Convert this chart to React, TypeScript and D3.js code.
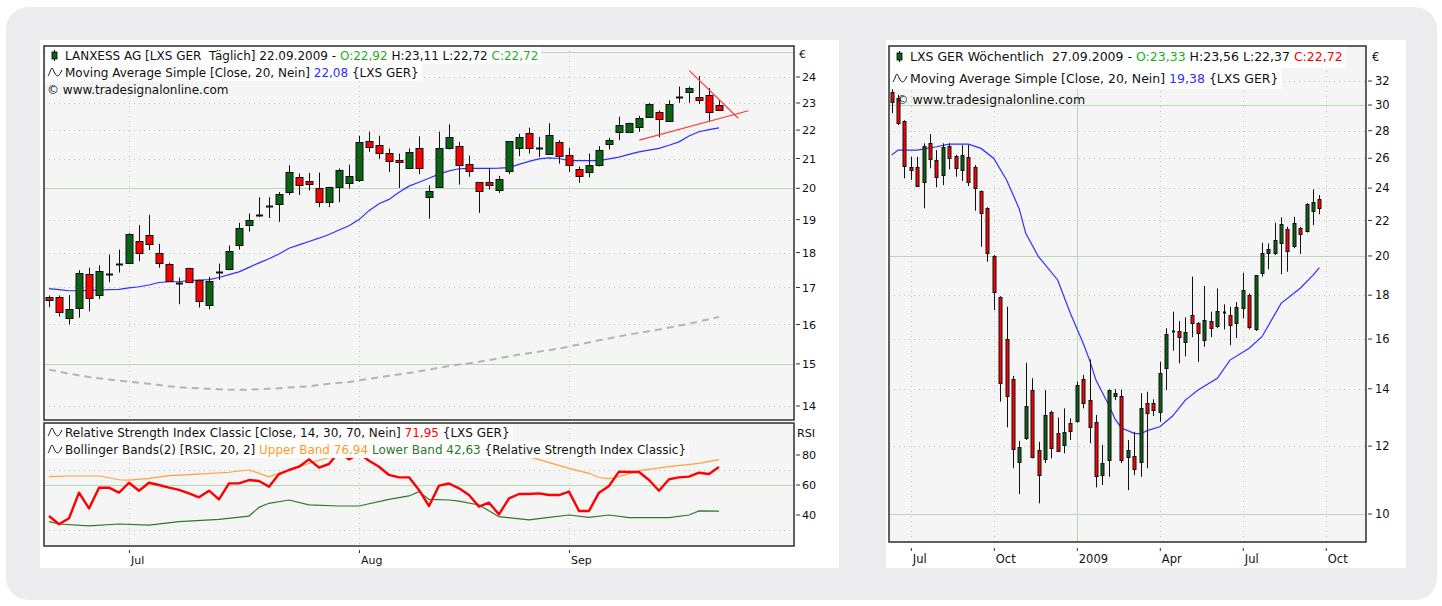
import { useLayoutEffect, useRef, useState } from 'react'
import * as d3 from 'd3'

const FONT = '"DejaVu Sans", Verdana, sans-serif'
const GREEN = '#0b6414'
const RED = '#ff0000'
const BLUE = '#2f2fff'

// LXS GER daily, 19.06.2009 - 22.09.2009 (one entry per trading day)
const dailyOpen = [16.74, 16.75, 16.16, 16.45, 17.39, 16.8, 17.39, 17.67, 17.7, 18.35, 18.52, 17.99, 17.68, 17.13, 17.54, 17.21, 16.53, 17.45, 17.51, 18.22, 18.83, 19.13, 19.44, 19.49, 19.87, 20.36, 20.23, 20.02, 19.55, 20.03, 20.16, 20.26, 21.61, 21.47, 21.2, 20.96, 20.68, 21.37, 19.73, 20.04, 21.37, 21.43, 20.82, 20.21, 20.22, 19.93, 20.59, 21.37, 21.91, 21.38, 21.17, 21.56, 21.13, 20.63, 20.54, 20.77, 21.49, 21.92, 21.92, 22.1, 22.47, 22.68, 22.33, 23.24, 23.41, 23.24, 23.31, 22.92]
const dailyHigh = [16.78, 16.78, 16.79, 17.49, 17.56, 17.63, 17.94, 18.09, 18.58, 18.83, 19.15, 18.26, 17.7, 17.28, 17.56, 17.22, 17.3, 17.68, 18.21, 18.9, 19.19, 19.71, 19.71, 19.88, 20.77, 20.49, 20.51, 20.52, 20.05, 20.66, 20.79, 21.8, 21.94, 21.8, 21.35, 21.17, 21.35, 21.78, 20.1, 21.94, 22.21, 21.58, 21.1, 20.21, 20.66, 20.41, 21.61, 21.87, 22.09, 21.76, 22.25, 21.64, 21.37, 20.73, 21.17, 21.43, 21.73, 22.49, 22.27, 22.52, 23.0, 22.72, 23.1, 23.63, 23.63, 24.04, 23.57, 23.11]
const dailyLow = [16.46, 16.21, 16.0, 16.18, 16.35, 16.68, 17.15, 17.42, 17.68, 17.75, 18.07, 17.56, 17.15, 16.54, 17.12, 16.45, 16.4, 17.21, 17.49, 18.09, 18.63, 19.08, 19.05, 18.93, 19.78, 19.78, 19.93, 19.39, 19.39, 19.55, 19.99, 20.21, 21.23, 20.99, 20.54, 20.01, 20.66, 20.47, 19.03, 20.02, 21.31, 20.12, 20.38, 19.21, 19.96, 19.85, 20.47, 21.08, 21.17, 21.05, 21.13, 20.82, 20.54, 20.18, 20.36, 20.73, 21.31, 21.64, 21.9, 21.94, 22.45, 21.74, 22.31, 23.01, 23.01, 22.96, 22.33, 22.72]
const dailyClose = [16.65, 16.34, 16.4, 17.42, 16.72, 17.46, 17.39, 17.67, 18.55, 17.99, 18.26, 17.7, 17.18, 17.13, 17.16, 16.62, 17.18, 17.45, 18.06, 18.75, 18.98, 19.13, 19.44, 19.8, 20.54, 20.12, 20.13, 19.55, 20.03, 20.62, 20.39, 21.56, 21.4, 21.2, 20.91, 20.88, 21.23, 20.66, 19.91, 21.37, 21.76, 20.77, 20.57, 19.9, 20.12, 20.3, 21.61, 21.76, 21.37, 21.38, 21.82, 21.1, 20.77, 20.4, 20.77, 21.29, 21.64, 22.19, 22.24, 22.44, 22.96, 22.39, 22.96, 23.24, 23.59, 23.12, 22.65, 22.72]
const dailySma20 = [16.97, 16.94, 16.91, 16.91, 16.92, 16.93, 16.94, 16.95, 16.99, 17.02, 17.07, 17.14, 17.16, 17.16, 17.19, 17.21, 17.22, 17.28, 17.36, 17.44, 17.57, 17.7, 17.82, 17.96, 18.13, 18.23, 18.33, 18.43, 18.54, 18.68, 18.81, 19.0, 19.28, 19.5, 19.64, 19.87, 20.07, 20.2, 20.33, 20.47, 20.58, 20.65, 20.66, 20.66, 20.66, 20.67, 20.69, 20.8, 20.9, 20.99, 21.02, 21.0, 20.93, 20.93, 20.93, 20.93, 20.99, 21.05, 21.14, 21.23, 21.29, 21.35, 21.46, 21.58, 21.79, 21.94, 22.02, 22.08]
// grey dashed long average, [day index, value]
const dailyLongAvg = [[0, 14.86], [2, 14.76], [4, 14.68], [6, 14.62], [8, 14.57], [10, 14.52], [12, 14.46], [14, 14.42], [16, 14.4], [18, 14.38], [20, 14.38], [22, 14.4], [24, 14.43], [26, 14.46], [28, 14.52], [30, 14.56], [32, 14.64], [34, 14.71], [36, 14.78], [38, 14.86], [40, 14.95], [43, 15.05], [47, 15.23], [51, 15.38], [55, 15.59], [58, 15.74], [61, 15.87], [64, 16.02], [67, 16.2]]
const trendLines = [[[64.03, 24.25], [68.93, 22.43]], [[59.03, 21.64], [69.93, 22.71]]]

const rsi = [39.3, 33.8, 37.8, 54.9, 44.4, 58.2, 58.2, 54.9, 61.5, 56.2, 61.5, 60, 58.2, 56.7, 54.4, 51.8, 56.2, 50.4, 61.1, 61.1, 63.3, 62.7, 58.9, 67.3, 70, 72.2, 77.1, 71.6, 74, 82.2, 77.1, 81.1, 76.2, 72.2, 66.7, 65.1, 65.1, 56.7, 46, 59.6, 61, 57.8, 53.3, 45.6, 48.2, 40.4, 51.1, 54, 54, 54.4, 53.3, 53.3, 55.6, 42.7, 42.7, 54.9, 59.3, 68.9, 68.7, 68.7, 63.3, 56.2, 63.8, 65.1, 65.6, 68.2, 67.3, 71.95]
const rsiUpper = [[0, 65.6], [2, 66], [5, 66], [7, 63.5], [8, 63.3], [10, 64.4], [12, 66.3], [15, 67.3], [18, 68.5], [20, 70], [22, 65.5], [23, 67.8], [25, 72.2], [27, 76.5], [29, 80], [31, 82.5], [35, 86], [40, 87.8], [44, 84.4], [48, 78.9], [52, 71.1], [54, 67.8], [55, 65], [56, 64.2], [57, 65.6], [59, 69.6], [62, 72.2], [65, 74.4], [67, 76.94]]
const rsiLower = [[0, 35.6], [1, 34], [4, 32.7], [7, 34], [10, 33.3], [13, 35.6], [17, 37.1], [20, 39.3], [21, 45.1], [22, 47.8], [24, 50], [26, 46.7], [29, 46], [31, 46], [34, 50.4], [36, 52.7], [37, 55.6], [38, 50.4], [40, 50], [41, 49.3], [43, 46.7], [45, 38.9], [48, 36.7], [50, 38.4], [52, 40], [54, 38.4], [56, 40], [58, 38.2], [62, 38.2], [64, 40], [65, 42.7], [67, 42.63]]

const dailyMonths = [{ label: 'Jul', at: 8 }, { label: 'Aug', at: 31 }, { label: 'Sep', at: 52 }]
const priceTicks = [14, 15, 16, 17, 18, 19, 20, 21, 22, 23, 24]
const rsiTicks = [40, 60, 80]

// LXS GER weekly, week of 09.06.2008 - week of 21.09.2009
const weeklyOpen = [31.09, 30.55, 28.76, 25.42, 25.37, 24.41, 27.07, 25.88, 24.86, 26.87, 26.16, 25.19, 26.07, 25.42, 23.81, 22.73, 20.0, 17.9, 15.99, 14.37, 11.51, 12.25, 13.95, 11.88, 11.58, 13.16, 12.42, 12.04, 12.76, 12.85, 14.36, 13.58, 12.81, 11.1, 11.56, 13.73, 13.73, 11.66, 11.69, 11.51, 13.49, 13.49, 13.16, 14.79, 16.37, 16.37, 15.88, 17.07, 16.72, 15.96, 16.8, 16.58, 17.22, 17.07, 16.72, 17.38, 18.01, 16.42, 19.09, 20.18, 20.14, 20.72, 21.48, 20.54, 21.54, 21.4, 22.58, 23.33]
const weeklyHigh = [31.3, 30.83, 28.8, 26.11, 26.11, 27.07, 27.75, 26.58, 27.07, 27.07, 26.24, 26.94, 26.94, 25.53, 23.85, 22.8, 20.05, 17.95, 17.45, 14.49, 12.17, 15.01, 14.4, 12.14, 13.95, 13.2, 12.96, 13.28, 12.93, 14.27, 14.53, 15.15, 13.05, 12.04, 13.97, 13.98, 13.97, 12.2, 12.47, 13.83, 13.89, 13.61, 15.05, 16.47, 17.22, 16.79, 16.96, 18.92, 16.75, 18.45, 17.22, 18.33, 17.56, 17.45, 17.67, 19.12, 18.08, 19.0, 20.72, 20.69, 21.87, 22.19, 21.63, 22.22, 21.63, 23.05, 23.92, 23.56]
const weeklyLow = [29.34, 28.43, 24.64, 24.53, 24.1, 22.73, 25.31, 24.05, 24.19, 25.24, 24.74, 24.47, 24.13, 22.58, 20.5, 19.69, 17.3, 13.52, 12.62, 11.31, 10.55, 12.2, 11.61, 10.29, 11.47, 11.61, 11.82, 11.77, 12.2, 12.78, 13.28, 12.09, 10.74, 10.81, 11.05, 13.58, 11.47, 10.66, 11.1, 11.05, 11.31, 13.01, 12.81, 13.95, 15.51, 14.99, 15.27, 16.08, 15.05, 15.67, 16.08, 16.47, 16.42, 15.74, 16.04, 16.91, 16.42, 16.35, 18.92, 19.3, 20.05, 19.04, 19.17, 20.42, 20.11, 21.3, 21.73, 22.37]
const weeklyClose = [30.27, 28.56, 25.46, 25.19, 24.13, 26.87, 25.93, 24.74, 26.82, 26.0, 25.31, 26.24, 24.41, 23.98, 22.43, 20.14, 18.17, 14.23, 13.73, 11.9, 11.98, 13.37, 11.66, 11.1, 13.05, 11.93, 11.85, 12.47, 12.49, 14.14, 13.49, 12.64, 11.07, 11.47, 13.95, 13.85, 11.56, 11.88, 11.28, 13.28, 13.11, 13.22, 14.59, 16.22, 16.37, 16.1, 16.32, 16.69, 16.27, 16.84, 16.47, 17.27, 17.22, 16.61, 17.45, 18.25, 16.53, 19.0, 20.14, 20.36, 20.88, 21.77, 20.28, 21.87, 21.21, 22.98, 23.14, 22.72]
const weeklySma20 = [[0, 26.23], [1, 26.58], [4, 26.58], [7, 26.82], [9, 27.01], [12, 27.01], [14, 26.7], [16, 25.99], [18, 24.53], [20, 22.68], [21, 21.25], [23, 19.96], [26, 18.75], [28, 17.14], [30, 15.82], [31, 15.12], [32, 14.33], [34, 13.4], [35, 12.9], [36, 12.6], [38, 12.42], [39, 12.4], [40, 12.51], [42, 12.64], [44, 13.01], [46, 13.58], [48, 13.95], [51, 14.4], [53, 15.12], [56, 15.61], [58, 16.1], [61, 17.61], [64, 18.34], [66, 19.0], [67, 19.38]]

const weeklyMonths = [{ label: 'Jul', at: 3 }, { label: 'Oct', at: 16 }, { label: '2009', at: 29 }, { label: 'Apr', at: 42 }, { label: 'Jul', at: 55 }, { label: 'Oct', at: 68 }]
const weeklyTicks = [10, 12, 14, 16, 18, 20, 22, 24, 26, 28, 30, 32]

type Seg = { t: string; c?: string }

function HeaderLine({ x, y, segs, size, box, icon }: { x: number; y: number; segs: Seg[]; size: number; box?: [number, number]; icon?: 'candle' | 'wave' }) {
  const ref = useRef<SVGTextElement>(null)
  const [w, setW] = useState(0)
  useLayoutEffect(() => {
    if (ref.current) setW(ref.current.getComputedTextLength())
  }, [])
  const ix = x - 17
  return (
    <g>
      {box && w > 0 && <rect x={ix - 2} y={box[0]} width={w + 22} height={box[1] - box[0]} fill="#fff" />}
      {icon === 'candle' && (
        <g>
          <line x1={ix + 6.5} x2={ix + 6.5} y1={y - 10} y2={y + 1} stroke="#000" />
          <rect x={ix + 4} y={y - 8} width={5} height={7} fill={GREEN} stroke="#000" strokeWidth={0.8} />
        </g>
      )}
      {icon === 'wave' && (
        <path d={`M${ix},${y - 1} C${ix + 2},${y - 4} ${ix + 3},${y - 9} ${ix + 4},${y - 9} S${ix + 6},${y - 4} ${ix + 8},${y - 2} S${ix + 11},${y - 1} ${ix + 14},${y - 7}`}
          fill="none" stroke="#111" strokeWidth={1} />
      )}
      <text ref={ref} x={x} y={y} fontSize={size} fontFamily={FONT} fill="#111" style={{ whiteSpace: 'pre' }}>
        {segs.map((s, i) => <tspan key={i} fill={s.c || '#111'}>{s.t}</tspan>)}
      </text>
    </g>
  )
}

function Candles({ x, y, o, h, l, c, bw }: any) {
  return (
    <g>
      {o.map((open: number, i: number) => {
        const close = c[i]
        const cx = Math.round(x(i)) + 0.5
        const top = Math.round(y(Math.max(open, close))) + 0.5
        const bot = Math.round(y(Math.min(open, close))) + 0.5
        return (
          <g key={i}>
            <line x1={cx} x2={cx} y1={y(h[i])} y2={y(l[i])} stroke="#111" strokeWidth={1} />
            {open === close
              ? <line x1={cx - bw / 2} x2={cx + bw / 2} y1={top} y2={top} stroke="#111" strokeWidth={2} />
              : <rect x={cx - bw / 2} y={top} width={bw} height={Math.max(1, bot - top)} fill={close > open ? GREEN : RED} stroke="#111" strokeWidth={1} />}
          </g>
        )
      })}
    </g>
  )
}

const dotted = { stroke: '#b9c7b9', strokeDasharray: '1,4', strokeWidth: 1 }
const solidGrid = { stroke: '#b8d6b8', strokeWidth: 1 }

export default function App() {
  // left daily chart
  const L = { x0: 44, x1: 794, top: 46, bottom: 420, rTop: 423, rBottom: 546 }
  const xd = d3.scaleLinear().domain([-0.5, 74.5]).range([L.x0, L.x1])
  const yd = d3.scaleLog().domain([24, 14]).range([77, 406])
  const yr = d3.scaleLinear().domain([80, 40]).range([455, 515])

  // right weekly chart
  const R = { x0: 889, x1: 1366, top: 46, bottom: 542 }
  const xw = d3.scaleLinear().domain([-0.42, 74.3]).range([R.x0, R.x1])
  const yw = d3.scaleLog().domain([32, 10]).range([81, 514])

  const lineD = d3.line<number>().x((_, i) => xd(i)).y(v => yd(v))
  const linePairs = (xs: any, ys: any) => d3.line<number[]>().x(p => xs(p[0])).y(p => ys(p[1]))
  const rsiLine = d3.line<number>().x((_, i) => xd(i)).y(v => yr(v))

  return (
    <svg width={1442} height={606} style={{ position: 'absolute', left: 0, top: 0 }} fontFamily={FONT}>
      <defs>
        <clipPath id="clipPrice"><rect x={L.x0} y={L.top} width={L.x1 - L.x0} height={L.bottom - L.top} /></clipPath>
        <clipPath id="clipRsi"><rect x={L.x0} y={L.rTop} width={L.x1 - L.x0} height={L.rBottom - L.rTop} /></clipPath>
        <clipPath id="clipWeek"><rect x={R.x0} y={R.top} width={R.x1 - R.x0} height={R.bottom - R.top} /></clipPath>
      </defs>
      <rect x={0} y={0} width={1442} height={606} fill="#fff" />
      <rect x={6} y={7} width={1431} height={593} rx={22} fill="#ececee" />
      <rect x={40} y={40} width={799} height={528} fill="#fff" />
      <rect x={886} y={40} width={520} height={528} fill="#fff" />

      {/* ---------- daily price panel ---------- */}
      <rect x={L.x0} y={L.top} width={L.x1 - L.x0} height={L.bottom - L.top} fill="#f5f5f5" />
      <g clipPath="url(#clipPrice)">
        {[14, 15, 16, 17, 18, 19, 20, 21, 22, 23, 24, 25].map(v => (
          <line key={v} x1={L.x0} x2={L.x1} y1={Math.round(yd(v)) + 0.5} y2={Math.round(yd(v)) + 0.5} {...(v % 5 === 0 ? solidGrid : dotted)} />
        ))}
        {dailyMonths.map(m => (
          <line key={m.label} x1={Math.round(xd(m.at)) + 0.5} x2={Math.round(xd(m.at)) + 0.5} y1={L.top} y2={L.bottom} {...dotted} />
        ))}
        <path d={linePairs(xd, yd)(dailyLongAvg as any) || ''} fill="none" stroke="#b4b4b4" strokeWidth={2} strokeDasharray="7,5" />
        <path d={lineD(dailySma20) || ''} fill="none" stroke={BLUE} strokeWidth={1.2} />
        <Candles x={xd} y={yd} o={dailyOpen} h={dailyHigh} l={dailyLow} c={dailyClose} bw={7} />
        {trendLines.map((t, i) => (
          <path key={i} d={linePairs(xd, yd)(t as any) || ''} stroke="#ff3b3b" strokeWidth={1.2} fill="none" />
        ))}
      </g>
      <HeaderLine x={65} y={60} size={12} box={[47, 64]} icon="candle" segs={[
        { t: 'LANXESS AG [LXS GER  Täglich] 22.09.2009 - ' }, { t: 'O:22,92', c: '#1fae1f' }, { t: ' H:23,11 L:22,72 ' }, { t: 'C:22,72', c: '#1fae1f' }]} />
      <HeaderLine x={65} y={77} size={12} box={[64, 81]} icon="wave" segs={[
        { t: 'Moving Average Simple [Close, 20, Nein] ' }, { t: '22,08', c: BLUE }, { t: ' {LXS GER}' }]} />
      <HeaderLine x={47} y={94} size={12} segs={[{ t: '© www.tradesignalonline.com' }]} />
      <rect x={L.x0} y={L.top} width={L.x1 - L.x0} height={L.bottom - L.top} fill="none" stroke="#3a3a3a" strokeWidth={1.6} />

      {/* ---------- RSI panel ---------- */}
      <rect x={L.x0} y={L.rTop} width={L.x1 - L.x0} height={L.rBottom - L.rTop} fill="#f5f5f5" />
      <g clipPath="url(#clipRsi)">
        {[70, 30, 20].map(v => (
          <line key={v} x1={L.x0} x2={L.x1} y1={Math.round(yr(v)) + 0.5} y2={Math.round(yr(v)) + 0.5} {...dotted} />
        ))}
        <line x1={L.x0} x2={L.x1} y1={Math.round(yr(60)) + 0.5} y2={Math.round(yr(60)) + 0.5} {...solidGrid} />
        {dailyMonths.map(m => (
          <line key={m.label} x1={Math.round(xd(m.at)) + 0.5} x2={Math.round(xd(m.at)) + 0.5} y1={L.rTop} y2={L.rBottom} {...dotted} />
        ))}
        <path d={linePairs(xd, yr)(rsiUpper as any) || ''} fill="none" stroke="#ffa03c" strokeWidth={1.2} />
        <path d={linePairs(xd, yr)(rsiLower as any) || ''} fill="none" stroke="#2a7a2a" strokeWidth={1.2} />
        <path d={rsiLine(rsi) || ''} fill="none" stroke={RED} strokeWidth={2.4} strokeLinejoin="round" />
      </g>
      <HeaderLine x={65} y={437} size={12} box={[424, 441]} icon="wave" segs={[
        { t: 'Relative Strength Index Classic [Close, 14, 30, 70, Nein] ' }, { t: '71,95', c: RED }, { t: ' {LXS GER}' }]} />
      <HeaderLine x={65} y={454} size={12} box={[441, 458]} icon="wave" segs={[
        { t: 'Bollinger Bands(2) [RSIC, 20, 2] ' }, { t: 'Upper Band 76,94', c: '#ff9a28' }, { t: ' ' }, { t: 'Lower Band 42,63', c: '#2a7a2a' }, { t: ' {Relative Strength Index Classic}' }]} />
      <rect x={L.x0} y={L.rTop} width={L.x1 - L.x0} height={L.rBottom - L.rTop} fill="none" stroke="#3a3a3a" strokeWidth={1.6} />

      {/* daily axes */}
      <text x={799} y={58} fontSize={11} fill="#111">€</text>
      {priceTicks.map(v => (
        <g key={v}>
          <line x1={796} x2={800} y1={yd(v)} y2={yd(v)} stroke="#333" />
          <text x={802} y={yd(v)} dy="0.36em" fontSize={11.2} fill="#111">{v}</text>
        </g>
      ))}
      <text x={797} y={437} fontSize={11.2} fill="#111">RSI</text>
      {rsiTicks.map(v => (
        <g key={v}>
          <line x1={796} x2={800} y1={yr(v)} y2={yr(v)} stroke="#333" />
          <text x={802} y={yr(v)} dy="0.36em" fontSize={11.2} fill="#111">{v}</text>
        </g>
      ))}
      {dailyMonths.map(m => (
        <g key={m.label}>
          <line x1={xd(m.at) + 0.5} x2={xd(m.at) + 0.5} y1={550} y2={553} stroke="#333" />
          <text x={xd(m.at) + 2} y={564} fontSize={11} fill="#111">{m.label}</text>
        </g>
      ))}

      {/* ---------- weekly chart ---------- */}
      <rect x={R.x0} y={R.top} width={R.x1 - R.x0} height={R.bottom - R.top} fill="#f5f5f5" />
      <g clipPath="url(#clipWeek)">
        {weeklyTicks.map(v => (
          <line key={v} x1={R.x0} x2={R.x1} y1={Math.round(yw(v)) + 0.5} y2={Math.round(yw(v)) + 0.5} {...(v % 10 === 0 ? solidGrid : dotted)} />
        ))}
        {weeklyMonths.map(m => (
          <line key={m.label + m.at} x1={Math.round(xw(m.at)) + 0.5} x2={Math.round(xw(m.at)) + 0.5} y1={R.top} y2={R.bottom} {...(m.label === '2009' ? solidGrid : dotted)} />
        ))}
        <path d={linePairs(xw, yw)(weeklySma20 as any) || ''} fill="none" stroke={BLUE} strokeWidth={1.2} />
        <Candles x={xw} y={yw} o={weeklyOpen} h={weeklyHigh} l={weeklyLow} c={weeklyClose} bw={3} />
      </g>
      <HeaderLine x={910} y={61} size={12.5} box={[47, 68]} icon="candle" segs={[
        { t: 'LXS GER Wöchentlich  27.09.2009 - ' }, { t: 'O:23,33', c: '#1fae1f' }, { t: ' H:23,56 L:22,37 ' }, { t: 'C:22,72', c: RED }]} />
      <HeaderLine x={910} y={83} size={12.5} box={[68, 89]} icon="wave" segs={[
        { t: 'Moving Average Simple [Close, 20, Nein] ' }, { t: '19,38', c: BLUE }, { t: ' {LXS GER}' }]} />
      <HeaderLine x={896} y={104} size={12.5} segs={[{ t: '© www.tradesignalonline.com' }]} />
      <rect x={R.x0} y={R.top} width={R.x1 - R.x0} height={R.bottom - R.top} fill="none" stroke="#3a3a3a" strokeWidth={1.6} />

      <text x={1372} y={61} fontSize={11.5} fill="#111">€</text>
      {weeklyTicks.map(v => (
        <g key={v}>
          <line x1={1368} x2={1372} y1={yw(v)} y2={yw(v)} stroke="#333" />
          <text x={1375} y={yw(v)} dy="0.36em" fontSize={11.5} fill="#111">{v}</text>
        </g>
      ))}
      {weeklyMonths.map(m => (
        <g key={m.label + m.at}>
          <line x1={xw(m.at) + 0.5} x2={xw(m.at) + 0.5} y1={548} y2={551} stroke="#333" />
          <text x={xw(m.at) + 2} y={563} fontSize={11.5} fill="#111">{m.label}</text>
        </g>
      ))}
    </svg>
  )
}
